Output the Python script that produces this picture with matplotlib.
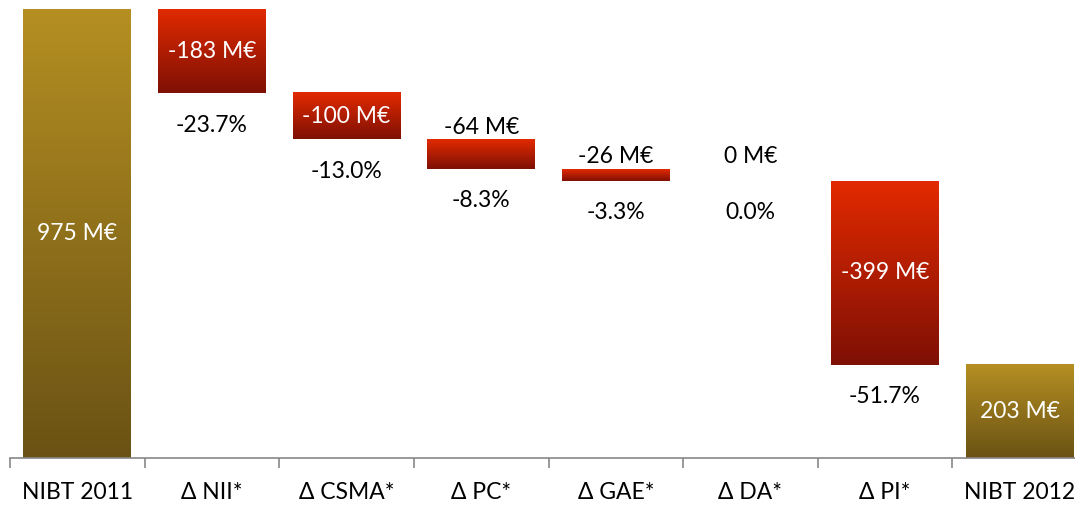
import numpy as np
import matplotlib
matplotlib.use("Agg")
import matplotlib.pyplot as plt
from matplotlib.colors import LinearSegmentedColormap

plt.rcParams['font.family'] = ['Lato', 'DejaVu Sans']

categories = ['NIBT 2011', 'Δ NII*', 'Δ CSMA*', 'Δ PC*', 'Δ GAE*', 'Δ DA*', 'Δ PI*', 'NIBT 2012']
start_value = 975
deltas = [-183, -100, -64, -26, 0, -399]
end_value = 203
pct_labels = ['-23.7%', '-13.0%', '-8.3%', '-3.3%', '0.0%', '-51.7%']

gold = LinearSegmentedColormap.from_list('gold', ['#6a5214', '#b58f22'])
red = LinearSegmentedColormap.from_list('red', ['#7e1005', '#e22a00'])
grad = np.linspace(0, 1, 256).reshape(-1, 1)

fig = plt.figure(figsize=(10.75, 5.05), dpi=100)
ax = fig.add_axes([10 / 1075, 47 / 505, 1077 / 1075, 449 / 505])
n = len(categories)
ax.set_xlim(-0.5, n - 0.5)
ax.set_ylim(0, start_value)
w = 0.8


def gbar(x, lo, hi, cmap):
    ax.imshow(grad, cmap=cmap, origin='lower', aspect='auto',
              extent=[x - w / 2, x + w / 2, lo, hi], zorder=2)


big_font = 16.5

# start bar
gbar(0, 0, start_value, gold)
ax.text(0, start_value / 2, f'{start_value} M€', color='white', ha='center', va='center', fontsize=big_font)

level = start_value
prev_top = start_value
for i, d in enumerate(deltas):
    x = i + 1
    top = level
    bottom = level + d
    if d != 0:
        gbar(x, bottom, top, red)
    bar_px = abs(d) * 449 / start_value
    if bar_px > 40:
        ax.text(x, (top + bottom) / 2, f'{d} M€', color='white', ha='center', va='center', fontsize=big_font)
    else:
        anchor = top if d != 0 else prev_top
        ax.annotate(f'{d} M€', (x, anchor), xytext=(0, 1), textcoords='offset points',
                    ha='center', va='bottom', fontsize=big_font, color='black')
    ax.annotate(pct_labels[i], (x, bottom), xytext=(0, -23), textcoords='offset points',
                ha='center', va='center', fontsize=big_font, color='black')
    prev_top = top
    level = bottom

# end bar
gbar(n - 1, 0, end_value, gold)
ax.text(n - 1, end_value / 2, f'{end_value} M€', color='white', ha='center', va='center', fontsize=big_font)

for s in ['top', 'right', 'left']:
    ax.spines[s].set_visible(False)
ax.spines['bottom'].set_color('#888888')
ax.spines['bottom'].set_linewidth(1.2)
ax.set_yticks([])
ax.set_xticks(np.arange(-0.5, n, 1.0))
ax.set_xticklabels([])
ax.set_xticks(np.arange(n), minor=True)
ax.set_xticklabels(categories, minor=True, fontsize=big_font)
ax.tick_params(axis='x', which='major', length=7, color='#888888', width=1.2)
ax.tick_params(axis='x', which='minor', length=0, pad=17)

fig.savefig('out.png', dpi=100)
